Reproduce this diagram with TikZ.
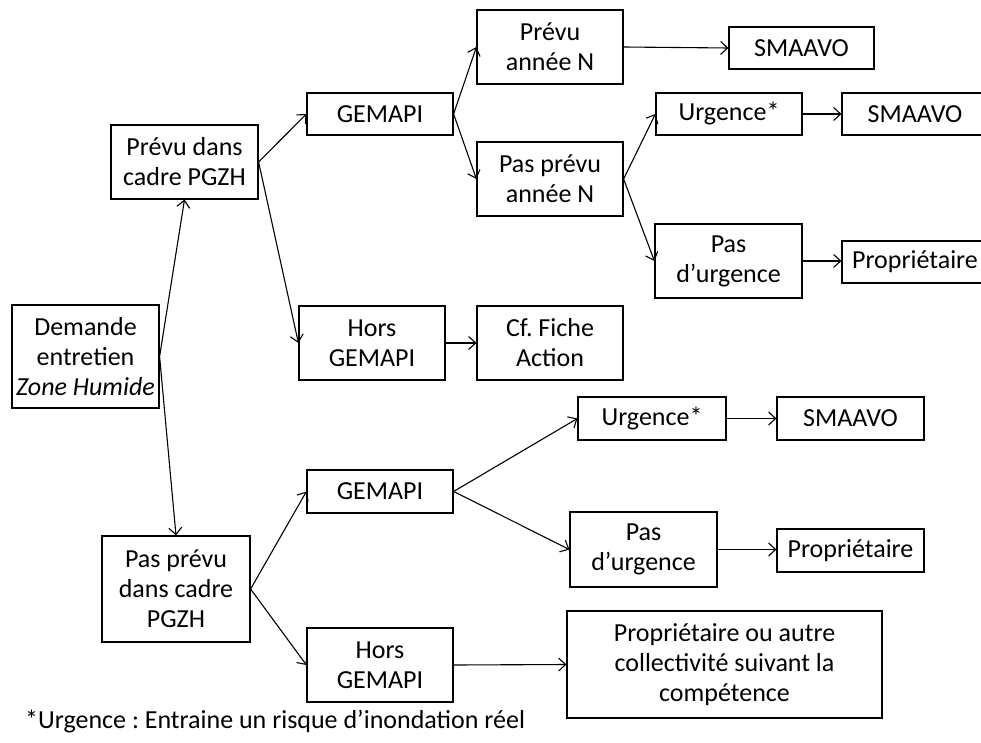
\documentclass[tikz,border=0pt]{standalone}
\usepackage{fontspec}
\setmainfont{Carlito}
\usetikzlibrary{arrows.meta}
\frenchspacing
\begin{document}
\begin{tikzpicture}[x=1pt,y=-1pt,
  box/.style={draw,line width=1.2pt,inner sep=0pt,align=center,font=\fontsize{26}{30}\selectfont},
  arr/.style={line width=1.1pt,-{Straight Barb[length=7pt,width=13pt,line width=1.1pt]}}]
\useasboundingbox (0,0) rectangle (981,743);
\node[box,minimum width=147,minimum height=103] (dem) at (85.5,356.5) {Demande\\entretien\\\textit{Zone Humide}};
\node[box,minimum width=147,minimum height=74] (pc) at (184.5,162) {Prévu dans\\cadre PGZH};
\node[box,minimum width=146,minimum height=42] (g1) at (380,114) {GEMAPI};
\node[box,minimum width=146,minimum height=74] (h1) at (372,343) {Hors\\GEMAPI};
\node[box,minimum width=146,minimum height=74] (pa) at (550,47) {Prévu\\année N};
\node[box,minimum width=145,minimum height=42] (s1) at (801.5,48) {SMAAVO};
\node[box,minimum width=146,minimum height=74] (ppa) at (550,179) {Pas prévu\\année N};
\node[box,minimum width=146,minimum height=42] (u1) at (729,114) {Urgence*};
\node[box,minimum width=146,minimum height=42] (s2) at (915,114) {SMAAVO};
\node[box,minimum width=147,minimum height=74] (pu1) at (728.5,261) {Pas\\d’urgence};
\node[box,minimum width=146,minimum height=42] (pr1) at (915,262) {Propriétaire};
\node[box,minimum width=146,minimum height=74] (cf) at (550,343) {Cf. Fiche\\Action};
\node[box,minimum width=148,minimum height=106] (ppc) at (176,589) {Pas prévu\\dans cadre\\PGZH};
\node[box,minimum width=146,minimum height=43] (g2) at (380,491.5) {GEMAPI};
\node[box,minimum width=146,minimum height=74] (h2) at (380,665) {Hors\\GEMAPI};
\node[box,minimum width=148,minimum height=43] (u2) at (652,418.5) {Urgence*};
\node[box,minimum width=147,minimum height=43] (s3) at (850.5,418.5) {SMAAVO};
\node[box,minimum width=147,minimum height=75] (pu2) at (643.5,549.5) {Pas\\d’urgence};
\node[box,minimum width=147,minimum height=43] (pr2) at (850.5,550.5) {Propriétaire};
\node[box,minimum width=315,minimum height=107] (big) at (724.5,664.5) {Propriétaire ou autre\\collectivité suivant la\\compétence};
\node[anchor=base west,inner sep=0pt,font=\fontsize{26}{30}\selectfont] (fn) at (25,728) {*Urgence : Entraine un risque d’inondation réel};
\draw[arr] (dem.east) -- (pc.south);
\draw[arr] (dem.east) -- (ppc.north);
\draw[arr] (pc.east) -- (g1.west);
\draw[arr] (pc.east) -- (h1.west);
\draw[arr] (g1.east) -- (pa.west);
\draw[arr] (g1.east) -- (ppa.west);
\draw[arr] (pa.east) -- (s1.west);
\draw[arr] (ppa.east) -- (u1.west);
\draw[arr] (ppa.east) -- (pu1.west);
\draw[arr] (u1.east) -- (s2.west);
\draw[arr] (pu1.east) -- (pr1.west |- pu1.east);
\draw[arr] (h1.east) -- (cf.west);
\draw[arr] (ppc.east) -- (g2.west);
\draw[arr] (ppc.east) -- (h2.west);
\draw[arr] (g2.east) -- (u2.west);
\draw[arr] (g2.east) -- (pu2.west);
\draw[arr] (u2.east) -- (s3.west);
\draw[arr] (pu2.east) -- (pr2.west |- pu2.east);
\draw[arr] (h2.east) -- (big.west);
\end{tikzpicture}
\end{document}
